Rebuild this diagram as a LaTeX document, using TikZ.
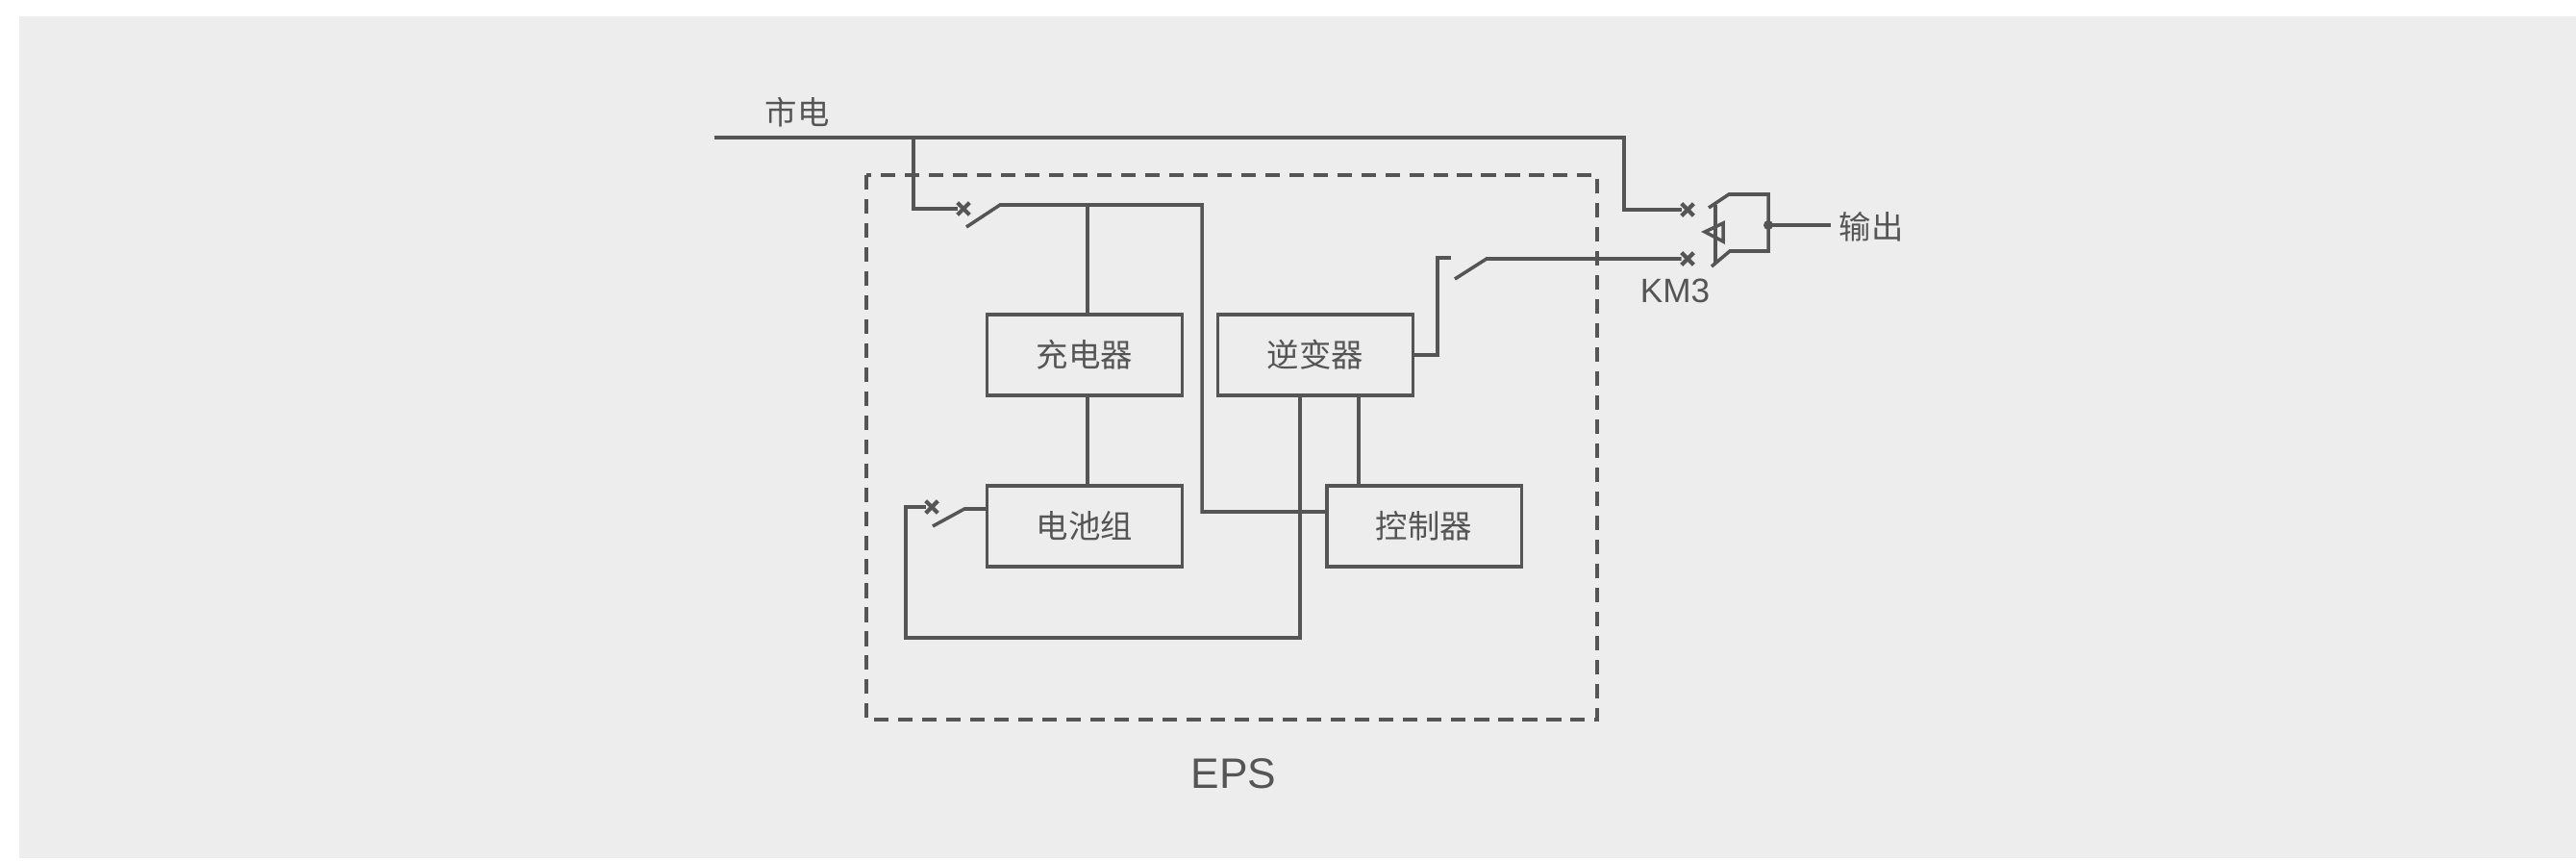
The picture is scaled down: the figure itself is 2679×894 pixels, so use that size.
\documentclass[tikz,border=0pt]{standalone}
\usepackage{fontspec}
\setmainfont{Liberation Sans}
\newfontfamily\cjk{Noto Sans CJK SC}
\usetikzlibrary{shapes.misc}
\definecolor{panelgray}{HTML}{EDEDED}
\definecolor{wiregray}{HTML}{555555}
\tikzset{
  wire/.style={draw=wiregray, line width=1pt},
  unitbox/.style={draw=wiregray, line width=1pt, minimum width=57.6pt, minimum height=23.9pt, inner sep=0pt, text=wiregray, font=\cjk\fontsize{9.5}{11}\selectfont},
  lbl/.style={inner sep=0pt, text=wiregray, font=\cjk\fontsize{9.5}{11}\selectfont},
  contact/.style={cross out, draw=wiregray, line width=1.2pt, minimum size=2.4pt, inner sep=0pt},
}
\begin{document}
\begin{tikzpicture}
    [x=0.01cm, y=-0.01cm]

    \useasboundingbox (0,0) rectangle (2679,894);
    \fill [panelgray] (20,17) rectangle (2679,892);

    % boxes
    \node [unitbox] at (1128, 369) (charger) {充电器};
    \node [unitbox] at (1128, 547) (battery) {电池组};
    \node [unitbox] at (1368, 369) (inverter) {逆变器};
    \node [unitbox] at (1481, 547) (control) {控制器};

    % texts
    \node [lbl] at (829, 117) (mains) {市电};
    \node [lbl] at (1946, 236) (output) {输出};
    \node [lbl, font=\fontsize{10}{12}\selectfont] at (1742, 302) (km3) {KM3};
    \node [lbl, font=\fontsize{12.6}{15}\selectfont] at (1283, 804) (eps) {EPS};

    % contacts
    \node [contact] at (1002, 217) (c1) {};
    \node [contact] at (969, 527) (c2) {};
    \node [contact] at (1755, 218) (c3) {};
    \node [contact] at (1755, 269) (c4) {};

    \coordinate (m0) at (743, 143);
    \coordinate (m1) at (950, 143);
    \coordinate (m2) at (1689, 143);
    \coordinate (s1a) at (1005, 236);
    \coordinate (s1b) at (1040, 213);
    \coordinate (s1c) at (1250, 213);
    \coordinate (s2a) at (970, 547);
    \coordinate (s2b) at (1003, 529);
    \coordinate (s3a) at (1513, 290);
    \coordinate (s3b) at (1546, 269);
    \coordinate (s3c) at (1509, 268);
    \coordinate (dot) at (1839, 234);
    \coordinate (k1) at (1784, 213);
    \coordinate (k2) at (1784, 273);
    \coordinate (outend) at (1904, 234);

    % dashed frame
    \draw [wire, dash pattern=on 4.3pt off 2.8pt] (901, 182) rectangle (1661, 748);

    % mains
    \draw [wire] (m0) -- (m2) |- (c3);
    \draw [wire] (m1) |- (c1);
    \draw [wire] (s1a) -- (s1b) -- (s1c) |- (control.west |- 0, 532);
    \draw [wire] (1131, 213) -- (charger.north -| 1131, 0);
    \draw [wire] (charger.south -| 1131, 0) -- (battery.north -| 1131, 0);

    % battery loop
    \draw [wire] (battery.west |- 0, 529) -- (s2b) -- (s2a);
    \draw [wire] (c2) -- (942, 527) |- (1352, 663) -- (inverter.south -| 1352, 0);

    % inverter
    \draw [wire] (inverter.east) -- (1495, 369) |- (s3c);
    \draw [wire] (s3a) -- (s3b) -- (c4);
    \draw [wire] (inverter.south -| 1413, 0) -- (control.north -| 1413, 0);

    % output contactor
    \draw [wire] (1777, 216) -- (1798, 202) -| (dot) |- (1799, 261) -- (1780, 277);
    \draw [wire] (k1) -- (k2);
    \draw [wire] (1792, 232) -- (1773, 241) -- (1792, 251) -- cycle;
    \fill [wiregray] (dot) circle (5);
    \draw [wire] (dot) -- (outend);

  \end{tikzpicture}
\end{document}
